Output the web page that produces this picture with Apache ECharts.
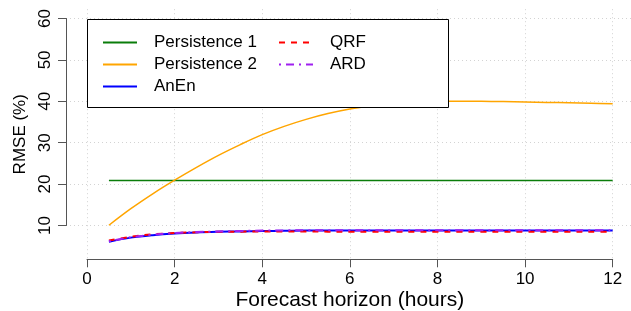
<!DOCTYPE html>
<html>
<head>
<meta charset="utf-8">
<script src="https://cdn.jsdelivr.net/npm/echarts@6/dist/echarts.min.js"></script>
<style>
  html, body { margin: 0; padding: 0; background: #fff; }
  #chart { width: 631px; height: 311px; }
</style>
</head>
<body>
<div id="chart"></div>
<script>
// forecast horizon (hours)
const hours = [0.5, 1, 1.5, 2, 2.5, 3, 3.5, 4, 4.5, 5, 5.5, 6, 6.5, 7, 7.5, 8, 8.5, 9, 9.5, 10, 10.5, 11, 11.5, 12];
const xTicks = [0, 2, 4, 6, 8, 10, 12];
const yTicks = [10, 20, 30, 40, 50, 60];

// RMSE (%) per method
const persistence1 = [20.8, 20.8, 20.8, 20.8, 20.8, 20.8, 20.8, 20.8, 20.8, 20.8, 20.8, 20.8, 20.8, 20.8, 20.8, 20.8, 20.8, 20.8, 20.8, 20.8, 20.8, 20.8, 20.8, 20.8];
const persistence2 = [10.0, 14.0, 17.6, 20.9, 24.0, 26.9, 29.5, 31.9, 33.9, 35.6, 37.0, 38.1, 38.9, 39.5, 39.8, 40.0, 40.0, 40.0, 39.9, 39.8, 39.7, 39.6, 39.5, 39.4];
const anen = [6.0, 7.0, 7.6, 8.0, 8.25, 8.4, 8.5, 8.6, 8.65, 8.7, 8.7, 8.7, 8.7, 8.72, 8.72, 8.72, 8.73, 8.73, 8.74, 8.74, 8.75, 8.75, 8.75, 8.75];
const qrf = [6.3, 7.2, 7.8, 8.1, 8.3, 8.4, 8.45, 8.5, 8.5, 8.5, 8.45, 8.45, 8.45, 8.45, 8.45, 8.4, 8.4, 8.4, 8.4, 8.4, 8.4, 8.4, 8.4, 8.4];
const ard = [6.1, 7.1, 7.7, 8.1, 8.35, 8.5, 8.6, 8.7, 8.75, 8.8, 8.8, 8.8, 8.8, 8.8, 8.8, 8.8, 8.8, 8.8, 8.8, 8.8, 8.8, 8.8, 8.8, 8.8];

const font = 'Liberation Sans, Arial, Helvetica, sans-serif';
const toPairs = (arr) => hours.map((h, i) => [h, arr[i]]);

const chart = echarts.init(document.getElementById('chart'));

const makeLine = (name, data, color, width, type) => ({
  name: name,
  type: 'line',
  xAxisIndex: 0,
  yAxisIndex: 0,
  data: toPairs(data),
  symbol: 'none',
  smooth: 0.35,
  lineStyle: { color: color, width: width, type: type },
  itemStyle: { color: color },
  emphasis: { disabled: true },
  z: 3
});

const legendBase = {
  orient: 'vertical', top: 34, padding: 0,
  itemWidth: 34, itemHeight: 14, itemGap: 5, z: 110,
  selectedMode: false,
  itemStyle: { opacity: 0 },
  textStyle: { fontSize: 17, color: '#000', fontFamily: font, lineHeight: 14, padding: [0, 0, 0, 12] }
};

const option = {
  animation: false,
  backgroundColor: '#fff',
  textStyle: { fontFamily: font },
  grid: [
    // plot region, data lives here
    { left: 66, top: 9.2, width: 567.7, height: 250.1, outerBoundsMode: 'none' },
    // x axis (0..12)
    { left: 87, top: 9.2, width: 525.7, height: 250.1, outerBoundsMode: 'none' },
    // y axis (10..60)
    { left: 66, top: 18.5, width: 567.7, height: 207, outerBoundsMode: 'none' }
  ],
  xAxis: [
    {
      gridIndex: 0, type: 'value', min: -0.48, max: 12.48,
      axisLine: { show: false }, axisTick: { show: false }, axisLabel: { show: false }, splitLine: { show: false },
      name: 'Forecast horizon (hours)', nameLocation: 'middle', nameGap: 30,
      nameTextStyle: { fontSize: 21, color: '#000', fontFamily: font }
    },
    {
      gridIndex: 1, type: 'value', min: 0, max: 12, interval: 2,
      axisLine: { show: true, lineStyle: { color: '#555', width: 1 } },
      axisTick: { show: true, inside: false, length: 8, lineStyle: { color: '#555' } },
      axisLabel: { show: true, margin: 12, fontSize: 17, color: '#000', fontFamily: font,
        customValues: xTicks, showMinLabel: true, showMaxLabel: true },
      splitLine: { show: true, lineStyle: { color: '#d3d3d3', type: [1, 3], width: 1 } }
    },
    {
      gridIndex: 2, type: 'value', min: 0, max: 1, show: false
    }
  ],
  yAxis: [
    {
      gridIndex: 0, type: 'value', min: 1.76, max: 62.24,
      axisLine: { show: false }, axisTick: { show: false }, axisLabel: { show: false }, splitLine: { show: false },
      name: 'RMSE (%)', nameLocation: 'middle', nameGap: 37,
      nameTextStyle: { fontSize: 17, color: '#000', fontFamily: font }
    },
    {
      gridIndex: 1, type: 'value', min: 0, max: 1, show: false
    },
    {
      gridIndex: 2, type: 'value', min: 10, max: 60, interval: 10,
      axisLine: { show: true, lineStyle: { color: '#555', width: 1 } },
      axisTick: { show: true, inside: false, length: 8, lineStyle: { color: '#555' } },
      axisLabel: { show: true, rotate: 90, margin: 12, fontSize: 17, color: '#000', fontFamily: font,
        customValues: yTicks },
      splitLine: { show: true, lineStyle: { color: '#d3d3d3', type: [1, 3], width: 1 } }
    }
  ],
  graphic: [
    {
      type: 'rect', z: 100,
      shape: { x: 87.5, y: 19.5, width: 361, height: 88 },
      style: { fill: '#fff', stroke: '#000', lineWidth: 1 }
    }
  ],
  legend: [
    Object.assign({}, legendBase, { data: ['Persistence 1', 'Persistence 2', 'AnEn'], left: 102 }),
    Object.assign({}, legendBase, { data: ['QRF', 'ARD'], left: 278 })
  ],
  series: [
    makeLine('Persistence 1', persistence1, '#0a7d0a', 1.5, 'solid'),
    makeLine('Persistence 2', persistence2, '#ffa500', 1.5, 'solid'),
    makeLine('AnEn', anen, '#0000ff', 2, 'solid'),
    makeLine('QRF', qrf, '#ff0000', 2, [6, 6]),
    makeLine('ARD', ard, '#a020f0', 2, [2, 5, 8, 5])
  ]
};

chart.setOption(option);
</script>
</body>
</html>
